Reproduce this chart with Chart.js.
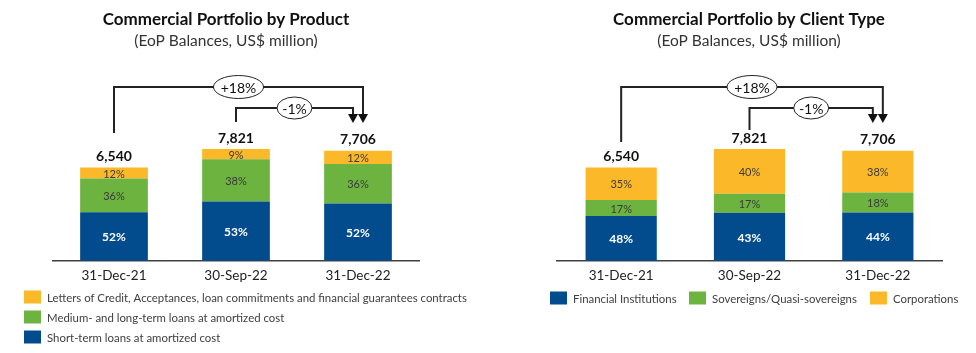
<!DOCTYPE html>
<html lang="en">
  <head>
    <meta charset="UTF-8" />
    <title>Commercial Portfolio</title>
    <script src="https://cdn.jsdelivr.net/npm/chart.js"></script>
    <style>
      html, body { margin: 0; padding: 0; background: #fff; }
      .wrap { position: relative; width: 976px; height: 353px; }
      .wrap canvas { position: absolute; top: 0; }
    </style>
  </head>
  <body>
    <div class="wrap">
      <canvas id="productChart" width="488" height="353" style="left:0"></canvas>
      <canvas id="clientChart" width="488" height="353" style="left:488px"></canvas>
    </div>

    <script>
      // --- data ---
      const periods = ['31-Dec-21', '30-Sep-22', '31-Dec-22'];
      const totals = [6540, 7821, 7706];

      // by product (share of total, %)
      const productNames = [
        'Short-term loans at amortized cost',
        'Medium- and long-term loans at amortized cost',
        'Letters of Credit, Acceptances, loan commitments and financial guarantees contracts'
      ];
      const shortTermShare = [52, 53, 52];
      const mediumLongShare = [36, 38, 36];
      const lettersShare = [12, 9, 12];

      // by client type (share of total, %)
      const clientNames = ['Financial Institutions', 'Sovereigns/Quasi-sovereigns', 'Corporations'];
      const financialShare = [48, 43, 44];
      const sovereignShare = [17, 17, 18];
      const corporateShare = [35, 40, 38];

      const growthYoY = '+18%';
      const growthQoQ = '-1%';

      const BLUE = '#024c8d';
      const GREEN = '#6db33f';
      const YELLOW = '#fbb829';
      const FONT = 'Lato, "Liberation Sans", sans-serif';

      const toBalances = shares => shares.map((s, i) => totals[i] * s / 100);

      function ellipseLabel(ctx, cx, cy, rx, ry, text) {
        ctx.beginPath();
        ctx.ellipse(cx, cy, rx, ry, 0, 0, Math.PI * 2);
        ctx.fillStyle = '#fff';
        ctx.fill();
        ctx.lineWidth = 1;
        ctx.strokeStyle = '#222';
        ctx.stroke();
        ctx.fillStyle = '#111';
        ctx.font = '14px ' + FONT;
        ctx.fillText(text, cx, cy + 1);
      }

      function arrowHead(ctx, x, tipY) {
        ctx.beginPath();
        ctx.moveTo(x - 5, tipY - 9);
        ctx.lineTo(x + 5, tipY - 9);
        ctx.lineTo(x, tipY);
        ctx.closePath();
        ctx.fillStyle = '#111';
        ctx.fill();
      }

      // titles, totals, segment labels, brackets, legend
      const decorations = {
        id: 'decorations',
        afterDatasetsDraw(chart, args, opts) {
          const ctx = chart.ctx;
          const x = chart.scales.x;
          const y = chart.scales.y;
          ctx.save();
          ctx.textAlign = 'center';
          ctx.textBaseline = 'middle';

          ctx.fillStyle = '#111';
          ctx.font = 'bold 17px ' + FONT;
          ctx.fillText(opts.title, opts.titleX, 20);
          ctx.fillStyle = '#333';
          ctx.font = '15.5px ' + FONT;
          ctx.fillText('(EoP Balances, US$ million)', opts.titleX, 41);

          // segment percentages
          chart.data.datasets.forEach((ds, di) => {
            chart.getDatasetMeta(di).data.forEach((bar, i) => {
              const mid = (bar.y + bar.base) / 2;
              if (di === 0) {
                ctx.fillStyle = '#fff';
                ctx.font = 'bold 12px ' + FONT;
              } else {
                ctx.fillStyle = '#3a3a3a';
                ctx.font = '11px ' + FONT;
              }
              ctx.fillText(ds.shares[i] + '%', bar.x, mid + 1);
            });
          });

          // totals
          ctx.fillStyle = '#111';
          ctx.font = 'bold 14px ' + FONT;
          const cx = totals.map((t, i) => x.getPixelForValue(i));
          const topY = totals.map(t => y.getPixelForValue(t));
          totals.forEach((t, i) => {
            ctx.fillText(t.toLocaleString('en-US'), cx[i], topY[i] - 11);
          });

          // brackets
          ctx.strokeStyle = '#222';
          ctx.lineWidth = 2;
          const tip = 123;
          const a = cx[2] + 5, b = cx[2] - 5;
          ctx.beginPath();
          ctx.moveTo(cx[0], opts.yoyStart);
          ctx.lineTo(cx[0], 87);
          ctx.lineTo(a, 87);
          ctx.lineTo(a, tip - 8);
          ctx.moveTo(cx[1], opts.qoqStart);
          ctx.lineTo(cx[1], 108);
          ctx.lineTo(b, 108);
          ctx.lineTo(b, tip - 8);
          ctx.stroke();
          arrowHead(ctx, a, tip);
          arrowHead(ctx, b, tip);
          ellipseLabel(ctx, (cx[0] + a) / 2, 87, 25, 11.5, growthYoY);
          ellipseLabel(ctx, (cx[1] + b) / 2, 108, 17.5, 11, growthQoQ);

          // legend
          ctx.textAlign = 'left';
          ctx.font = '11.4px ' + FONT;
          opts.legend.forEach(item => {
            const ds = chart.data.datasets[item.index];
            ctx.fillStyle = ds.backgroundColor;
            ctx.fillRect(item.x, item.y - 6.5, 17, 13);
            ctx.fillStyle = '#404040';
            ctx.fillText(ds.label, item.x + 23, item.y + 1);
          });
          ctx.restore();
        }
      };

      function makeChart(id, names, shares, opts, padding) {
        const colors = [BLUE, GREEN, YELLOW];
        return new Chart(document.getElementById(id), {
          type: 'bar',
          data: {
            labels: periods,
            datasets: names.map((n, i) => ({
              label: n,
              data: toBalances(shares[i]),
              shares: shares[i],
              backgroundColor: colors[i],
              barPercentage: 0.555,
              categoryPercentage: 1
            }))
          },
          options: {
            responsive: false,
            animation: false,
            layout: { padding: padding },
            scales: {
              x: {
                stacked: true,
                grid: { display: false, drawTicks: false },
                border: { display: true, color: '#404040', width: 1.5 },
                ticks: { color: '#222', padding: 7, font: { family: FONT, size: 13.5 } }
              },
              y: { stacked: true, display: false, min: 0, max: 10000 }
            },
            plugins: {
              legend: { display: false },
              tooltip: { enabled: false },
              decorations: opts
            }
          },
          plugins: [decorations]
        });
      }

      makeChart('productChart', productNames, [shortTermShare, mediumLongShare, lettersShare], {
        title: 'Commercial Portfolio by Product',
        titleX: 226,
        yoyStart: 133,
        qoqStart: 122,
        legend: [
          { index: 2, x: 24, y: 297 },
          { index: 1, x: 24, y: 317 },
          { index: 0, x: 24, y: 337 }
        ]
      }, { top: 118, left: 53, right: 69, bottom: 62 });

      makeChart('clientChart', clientNames, [financialShare, sovereignShare, corporateShare], {
        title: 'Commercial Portfolio by Client Type',
        titleX: 261,
        yoyStart: 142,
        qoqStart: 130,
        legend: [
          { index: 0, x: 62, y: 298 },
          { index: 1, x: 201, y: 298 },
          { index: 2, x: 382, y: 298 }
        ]
      }, { top: 118, left: 69, right: 34, bottom: 62 });
    </script>
  </body>
</html>
